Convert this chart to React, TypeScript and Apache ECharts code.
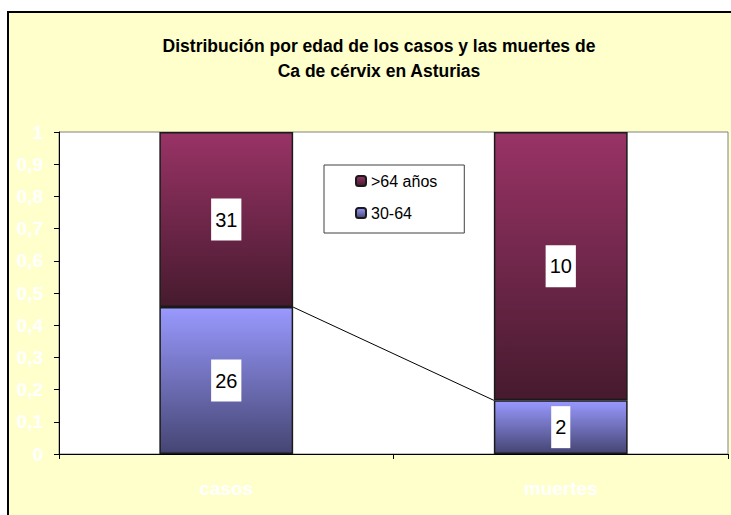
import React, { useEffect, useRef } from "react";
import * as echarts from "echarts";

const categories = ["casos", "muertes"];
const seriesNames = ["30-64", ">64 años"];
const counts3064 = [26, 2];
const countsOver64 = [31, 10];
const yTicks = [0, 0.1, 0.2, 0.3, 0.4, 0.5, 0.6, 0.7, 0.8, 0.9, 1];

const FONT = 'Arial, "Liberation Sans", sans-serif';

export default function App() {
  const ref = useRef<HTMLDivElement>(null);

  useEffect(() => {
    if (!ref.current) return;
    const chart = echarts.init(ref.current, undefined, { renderer: "svg" });
    const totals = categories.map((_, i) => counts3064[i] + countsOver64[i]);
    const share3064 = counts3064.map((v, i) => v / totals[i]);
    const shareOver64 = countsOver64.map((v, i) => v / totals[i]);

    const labelStyle = (arr: number[]) => ({
      show: true,
      position: "inside",
      formatter: (p: any) => String(arr[p.dataIndex]),
      backgroundColor: "#ffffff",
      color: "#000",
      fontFamily: FONT,
      fontSize: 20,
      padding: [11, 4, 11, 4],
    });

    chart.setOption({
      animation: false,
      backgroundColor: "transparent",
      title: {
        text: "Distribución por edad de los casos y las muertes de\nCa de cérvix en Asturias",
        left: 374,
        textAlign: "center",
        top: 28,
        textStyle: {
          fontFamily: FONT,
          fontSize: 17.5,
          fontWeight: "bold",
          color: "#000",
          lineHeight: 25,
        },
      },
      legend: {
        data: [">64 años", "30-64"],
        orient: "vertical",
        left: 324,
        top: 165,
        padding: [8, 27, 12, 31],
        itemGap: 16,
        itemWidth: 10,
        itemHeight: 10,
        backgroundColor: "#ffffff",
        borderColor: "#404040",
        borderWidth: 1,
        textStyle: { fontFamily: FONT, fontSize: 16, color: "#000", lineHeight: 16 },
      },
      grid: {
        left: 59,
        top: 132,
        right: 3,
        bottom: 61,
        show: true,
        backgroundColor: "#ffffff",
        borderColor: "#808080",
        borderWidth: 1,
      },
      xAxis: {
        type: "category",
        data: categories,
        axisLine: { show: true, lineStyle: { color: "#000", width: 1 } },
        axisTick: { show: true, length: 5, lineStyle: { color: "#000" } },
        axisLabel: {
          color: "#ffffff",
          fontFamily: FONT,
          fontSize: 19,
          fontWeight: "bold",
          margin: 25,
        },
      },
      yAxis: {
        type: "value",
        min: 0,
        max: 1,
        interval: 0.1,
        splitLine: { show: false },
        axisLine: { show: true, lineStyle: { color: "#000", width: 1 } },
        axisTick: { show: true, length: 5, lineStyle: { color: "#000" } },
        axisLabel: {
          color: "#ffffff",
          fontFamily: FONT,
          fontSize: 19,
          fontWeight: "bold",
          margin: 16,
          customValues: yTicks,
          formatter: (v: number) => {
            const r = Math.round(v * 10) / 10;
            return String(r).replace(".", ",");
          },
        },
      },
      series: [
        {
          name: seriesNames[0],
          type: "bar",
          stack: "total",
          barWidth: "40%",
          data: share3064,
          itemStyle: {
            borderColor: "#1a1a1a",
            borderWidth: 1.5,
            color: new echarts.graphic.LinearGradient(0, 0, 0, 1, [
              { offset: 0, color: "#9999ff" },
              { offset: 1, color: "#454573" },
            ]),
          },
          label: labelStyle(counts3064),
        },
        {
          name: seriesNames[1],
          type: "bar",
          stack: "total",
          barWidth: "40%",
          data: shareOver64,
          itemStyle: {
            borderColor: "#1a1a1a",
            borderWidth: 1.5,
            color: new echarts.graphic.LinearGradient(0, 0, 0, 1, [
              { offset: 0, color: "#993366" },
              { offset: 1, color: "#461a2e" },
            ]),
          },
          label: labelStyle(countsOver64),
        },
        {
          type: "custom",
          silent: true,
          z: 3,
          data: [[0, 0]],
          renderItem: (_params: any, api: any) => {
            const p0 = api.coord([0, share3064[0]]);
            const p1 = api.coord([1, share3064[1]]);
            const band = api.size([1, 0])[0];
            const half = band * 0.2;
            return {
              type: "line",
              shape: { x1: p0[0] + half, y1: p0[1], x2: p1[0] - half, y2: p1[1] },
              style: { stroke: "#000", lineWidth: 1 },
            };
          },
        },
      ],
    });

    return () => chart.dispose();
  }, []);

  return (
    <div style={{ position: "absolute", left: 0, top: 0, width: 731, height: 515, background: "#ffffff" }}>
      <div
        style={{
          position: "absolute",
          left: 7,
          top: 11,
          width: 724,
          height: 504,
          background: "#ffffcc",
          borderLeft: "2px solid #000",
          borderTop: "2px solid #000",
          boxSizing: "border-box",
        }}
      />
      <div ref={ref} style={{ position: "absolute", left: 0, top: 0, width: 731, height: 515 }} />
    </div>
  );
}
